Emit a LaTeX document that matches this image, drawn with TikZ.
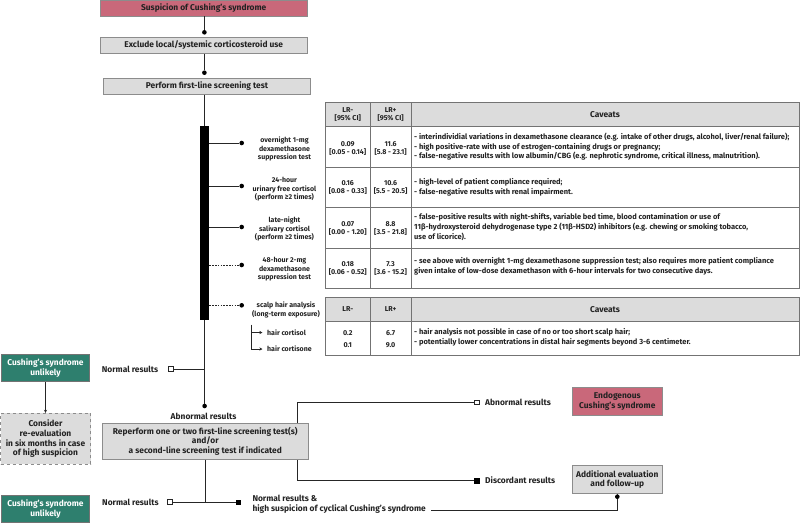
\documentclass[tikz,border=0pt]{standalone}
\usepackage{fontspec}
\setmainfont{Fira Sans}
\usetikzlibrary{arrows.meta}
\definecolor{pinkc}{HTML}{C9687A}
\definecolor{tealc}{HTML}{2E7F6E}
\definecolor{boxg}{HTML}{DCDCDC}
\definecolor{edgeg}{HTML}{8C8C8C}
\definecolor{txt}{HTML}{222222}
\begin{document}
\begin{tikzpicture}[x=1pt,y=-1pt,
  every node/.style={text=txt},
  box/.style={draw=edgeg, line width=0.8pt, fill=boxg, inner sep=0pt, align=center, font=\bfseries\fontsize{8.4}{9.6}\selectfont},
  pbox/.style={box, fill=pinkc},
  tbox/.style={box, fill=tealc, draw=black!55, text=white},
  conn/.style={line width=1pt, draw=black!85},
  dconn/.style={conn, dash pattern=on 1.6pt off 1.2pt},
  dotn/.style={circle, fill=black, minimum size=4.6pt, inner sep=0pt},
  sqo/.style={draw=black!85, fill=white, line width=0.7pt, minimum size=4.4pt, inner sep=0pt},
  sqf/.style={draw=black, fill=black, minimum size=4.6pt, inner sep=0pt},
  lbl/.style={align=center, inner sep=0pt, font=\bfseries\fontsize{7}{8.5}\selectfont},
  res/.style={inner sep=0pt, font=\bfseries\fontsize{8.4}{9.6}\selectfont},
  tval/.style={align=center, inner sep=0pt, font=\bfseries\fontsize{7.1}{8}\selectfont},
  cav/.style={align=left, anchor=west, inner sep=0pt, font=\bfseries\fontsize{7.5}{9.6}\selectfont},
  tline/.style={draw=black!55, line width=0.8pt},
  arr/.style={-{Stealth[length=3.2pt,width=3.2pt]}}
]
\useasboundingbox (0,0) rectangle (800,523);

% ---------- top chain ----------
\node[pbox, minimum width=207, minimum height=16] (susp) at (203.7,8) {Suspicion of Cushing's syndrome};
\node[dotn] (d1) at (204.4,32.3) {};
\node[box, minimum width=207, minimum height=16] (excl) at (203.7,45.3) {Exclude local/systemic corticosteroid use};
\node[dotn] (d2) at (204.4,72.7) {};
\node[box, minimum width=207, minimum height=16] (perf) at (207,86.3) {Perform first-line screening test};
\draw[conn] (d1 |- susp.south) -- (d1);
\draw[conn] (d2 |- excl.south) -- (d2);

% ---------- main vertical ----------
\node[dotn] (d3) at (204.6,406) {};
\draw[conn] (d3 |- perf.south) -- (d3);
\node[fill=black, minimum width=9.3, minimum height=194, inner sep=0pt] (bar) at (204.6,223) {};

% branches
\node[dotn] (b1) at (241.7,143) {};
\node[dotn] (b2) at (241.7,186) {};
\node[dotn] (b3) at (241.7,227) {};
\node[dotn] (b4) at (241.7,265) {};
\node[dotn] (b5) at (241.7,305.3) {};
\draw[conn] (bar.east |- b1) -- (b1);
\draw[conn] (bar.east |- b2) -- (b2);
\draw[conn] (bar.east |- b3) -- (b3);
\draw[dconn] (bar.east |- b4) -- (b4);
\draw[dconn] (bar.east |- b5) -- (b5);

\node[lbl] (l1) at (284.5,149) {overnight 1-mg\\dexamethasone\\suppression test};
\node[lbl] (l2) at (284.5,189.3) {24-hour\\urinary free cortisol\\(perform ≥2 times)};
\node[lbl] (l3) at (284.5,229) {late-night\\salivary cortisol\\(perform ≥2 times)};
\node[lbl] (l4) at (284.5,269.3) {48-hour 2-mg\\dexamethasone\\suppression test};
\node[lbl] (l5) at (286,309.8) {scalp hair analysis\\(long-term exposure)};

% hair sub-branches
\node[lbl, anchor=west] (hc1) at (267,332.5) {hair cortisol};
\node[lbl, anchor=west] (hc2) at (267,349) {hair cortisone};
\coordinate (hv) at (251.7,324.5);
\draw[line width=0.9pt, draw=black!85, arr, shorten >=4.5pt] (hv) |- (hc2.west);
\draw[line width=0.9pt, draw=black!85, arr, shorten >=4.5pt] (hv |- hc1) -- (hc1.west);

% normal results 1
\node[sqo] (s1) at (170.7,369) {};
\draw[conn] (d3 |- s1) -- (s1.east);
\node[res, anchor=west] (nr1) at (101.7,369) {Normal results};

% ---------- table 1 ----------
\fill[boxg] (325.3,102) rectangle (799,126.3);
\draw[tline] (325.3,102) rectangle (799,288);
\foreach \yy in {126.3,167,207.3,248} \draw[tline] (325.3,\yy) -- (799,\yy);
\draw[tline] (370.3,102) -- (370.3,288);
\draw[tline] (411,102) -- (411,288);

\node[tval] (h1) at (347.8,114.2) {LR-\\{[95\% CI]}};
\node[tval] (h2) at (390.6,114.2) {LR+\\{[95\% CI]}};
\node[res] (h3) at (605,114.2) {Caveats};

\node[tval] (r1a) at (347.8,148) {0.09\\{[0.05 - 0.14]}};
\node[tval] (r1b) at (390.6,148) {11.6\\{[5.8 - 23.1]}};
\node[cav] (r1c) at (414,146.7) {- interindividial variations in dexamethasone clearance (e.g. intake of other drugs, alcohol, liver/renal failure);\\- high positive-rate with use of estrogen-containing drugs or pregnancy;\\- false-negative results with low albumin/CBG (e.g. nephrotic syndrome, critical illness, malnutrition).};

\node[tval] (r2a) at (347.8,187.5) {0.16\\{[0.08 - 0.33]}};
\node[tval] (r2b) at (390.6,187.5) {10.6\\{[5.5 - 20.5]}};
\node[cav] (r2c) at (414,187) {- high-level of patient compliance required;\\- false-negative results with renal impairment.};

\node[tval] (r3a) at (347.8,228) {0.07\\{[0.00 - 1.20]}};
\node[tval] (r3b) at (390.6,228) {8.8\\{[3.5 - 21.8]}};
\node[cav] (r3c) at (414,227) {- false-positive results with night-shifts, variable bed time, blood contamination or use of\\11β-hydroxysteroid dehydrogenase type 2 (11β-HSD2) inhibitors (e.g. chewing or smoking tobacco,\\use of licorice).};

\node[tval] (r4a) at (347.8,268.5) {0.18\\{[0.06 - 0.52]}};
\node[tval] (r4b) at (390.6,268.5) {7.3\\{[3.6 - 15.2]}};
\node[cav] (r4c) at (414,266) {- see above with overnight 1-mg dexamethasone suppression test; also requires more patient compliance\\given intake of low-dose dexamethason with 6-hour intervals for two consecutive days.};

% ---------- hair table ----------
\fill[boxg] (325.3,297.3) rectangle (799,321.3);
\draw[tline] (325.3,297.3) rectangle (799,355.7);
\draw[tline] (325.3,321.3) -- (799,321.3);
\draw[tline] (370.3,297.3) -- (370.3,355.7);
\draw[tline] (411,297.3) -- (411,355.7);
\node[tval] (hh1) at (347.8,309.3) {LR-};
\node[tval] (hh2) at (390.6,309.3) {LR+};
\node[res] (hh3) at (605,309.3) {Caveats};
\node[tval] (v1) at (347.8,333) {0.2};
\node[tval] (v2) at (347.8,345.3) {0.1};
\node[tval] (v3) at (390.6,333) {6.7};
\node[tval] (v4) at (390.6,345.3) {9.0};
\node[cav] (hcv) at (414,337.5) {- hair analysis not possible in case of no or too short scalp hair;\\- potentially lower concentrations in distal hair segments beyond 3-6 centimeter.};

% ---------- left column ----------
\node[tbox, minimum width=87.6, minimum height=27.7] (cu1) at (45.5,367.8) {Cushing's syndrome\\unlikely};
\node[box, dashed, minimum width=90, minimum height=51] (cons) at (45.5,438.8) {Consider\\re-evaluation\\in six months in case\\of high suspicion};
\draw[conn, arr] (cu1.south) -- (cons.north);
\node[tbox, minimum width=87.6, minimum height=27.7] (cu2) at (45.5,508.8) {Cushing's syndrome\\unlikely};

% ---------- lower part ----------
\node[res] (abn) at (203.5,416.7) {Abnormal results};
\node[sqo] (s2) at (476.7,402.5) {};
\node[sqf] (s3) at (476.7,480.5) {};
\coordinate (bt) at (297.5,402.5);
\coordinate (bb) at (297.5,480.5);
\draw[conn] (s2.west) -- (bt) -- (bb) -- (s3.west);
\node[box, minimum width=206, minimum height=36] (rep) at (205.3,441.3) {Reperform one or two first-line screening test(s)\\and/or\\a second-line screening test if indicated};
\node[res, anchor=west] (abn2) at (485,402.5) {Abnormal results};
\node[res, anchor=west] (disc) at (485,480.5) {Discordant results};

\node[pbox, minimum width=90, minimum height=27.7] (endo) at (617.3,401.2) {Endogenous\\Cushing's syndrome};
\node[box, minimum width=90, minimum height=27.7] (addl) at (617.3,479.5) {Additional evaluation\\and follow-up};

\node[sqo] (s4) at (170,502) {};
\node[sqf] (s5) at (238,502) {};
\draw[conn] (rep.south) -- (rep.south |- s4);
\draw[conn] (s4.east) -- (s5.west);
\node[res, anchor=west] (nr2) at (102,502) {Normal results};
\node[res, anchor=west, align=left] (cyc) at (252.3,504.2) {Normal results \&\\high suspicion of cyclical Cushing's syndrome};
\node[dotn] (d5) at (617.3,496.7) {};
\coordinate (ce) at (431,510);
\draw[conn] (ce) -| (d5);
\draw[conn] (d5) -- (addl.south);
\end{tikzpicture}
\end{document}
